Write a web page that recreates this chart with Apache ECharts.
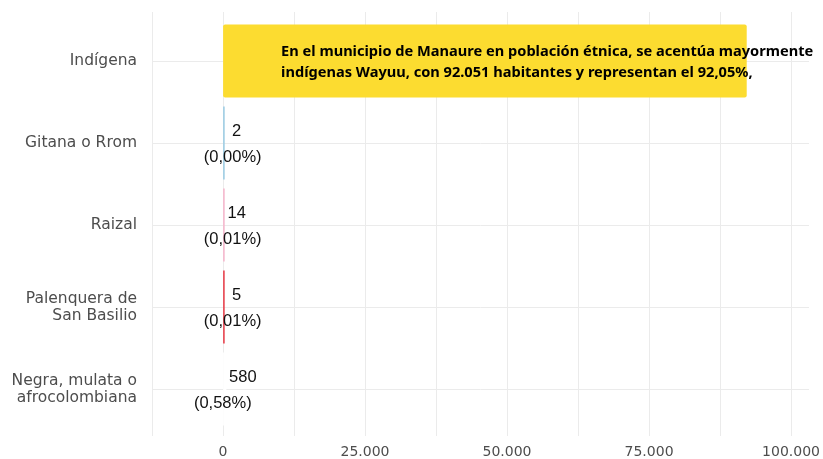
<!DOCTYPE html>
<html><head><meta charset="utf-8">
<script src="https://cdn.jsdelivr.net/npm/echarts@6/dist/echarts.min.js"></script>
<style>html,body{margin:0;padding:0;background:#fff}#c{width:823px;height:459px}</style>
</head><body><div id="c"></div>
<script>
const categories = ['Indígena', 'Gitana o Rrom', 'Raizal', 'Palenquera de\nSan Basilio', 'Negra, mulata o\nafrocolombiana'];
const values = [92051, 2, 14, 5, 580];
const percents = [92.05, 0.00, 0.01, 0.01, 0.58];
const barColors = ['#FCDC30', '#9FCDE4', '#F5B8CD', '#E8434F', '#FFFFFF'];
const xTickLabels = [0, 25000, 50000, 75000, 100000];
const annotation = 'En el municipio de Manaure en población étnica, se acentúa mayormente\nindígenas Wayuu, con 92.051 habitantes y representan el 92,05%,';

function fmtNum(v) { return String(v).replace(/\B(?=(\d{3})+(?!\d))/g, '.'); }
function fmtPct(p) { return '(' + p.toFixed(2).replace('.', ',') + '%)'; }

const labelFont = 'Liberation Sans, Arial, sans-serif';
const axisFont = 'DejaVu Sans, Verdana, sans-serif';

const barData = values.map(function (v, i) {
  const item = { value: v, itemStyle: { color: barColors[i] } };
  if (i === 0) {
    item.itemStyle.borderRadius = 2;
    item.label = {
      show: true, position: [58, 38], align: 'left', verticalAlign: 'middle',
      formatter: annotation, fontWeight: 'bold', fontSize: 14.6, lineHeight: 21,
      color: '#000', fontFamily: 'Noto Sans, sans-serif'
    };
  } else {
    const big = v > 100;
    item.label = {
      show: true, position: 'right', distance: 0, align: 'center', verticalAlign: 'middle',
      offset: big ? [-3.6, 1] : [8, 1],
      formatter: '{v|' + fmtNum(v) + '}\n{p|' + fmtPct(percents[i]) + '}',
      rich: {
        v: { fontSize: 16.5, fontFamily: labelFont, color: '#111', lineHeight: 26, padding: [0, 0, 0, big ? 40 : 8] },
        p: { fontSize: 16.5, fontFamily: labelFont, color: '#111', lineHeight: 26 }
      }
    };
  }
  return item;
});

const chart = echarts.init(document.getElementById('c'), null, { renderer: 'canvas' });
chart.setOption({
  animation: false,
  backgroundColor: '#ffffff',
  grid: [
    { left: 152, right: 14, top: 12, bottom: 22 },
    { left: 152, right: 14, top: 20, bottom: 29 }
  ],
  xAxis: [
    {
      gridIndex: 0, type: 'value', min: -12500, max: 103000, interval: 12500,
      axisLine: { show: false }, axisTick: { show: false },
      splitLine: { show: true, showMaxLine: false, lineStyle: { color: '#ebebeb', width: 1 } },
      axisLabel: {
        margin: 9, color: '#4d4d4d', fontSize: 14, fontFamily: axisFont,
        formatter: function (v) { return xTickLabels.indexOf(v) >= 0 ? fmtNum(v) : ''; }
      }
    },
    {
      gridIndex: 1, type: 'value', min: -12500, max: 103000, interval: 12500, show: false,
      splitLine: { show: false }
    }
  ],
  yAxis: [
    { gridIndex: 0, type: 'value', show: false, splitLine: { show: false } },
    {
      gridIndex: 1, type: 'category', data: categories, inverse: true,
      axisLine: { show: false }, axisTick: { show: false },
      splitLine: { show: true, alignWithLabel: true, lineStyle: { color: '#ebebeb', width: 1 } },
      axisLabel: { margin: 15, color: '#4d4d4d', fontSize: 15.5, lineHeight: 17, fontFamily: axisFont, align: 'right' }
    }
  ],
  series: [
    {
      type: 'bar', xAxisIndex: 1, yAxisIndex: 1, data: barData,
      barWidth: '89%', barMinHeight: 1.6
    }
  ]
});
</script></body></html>
